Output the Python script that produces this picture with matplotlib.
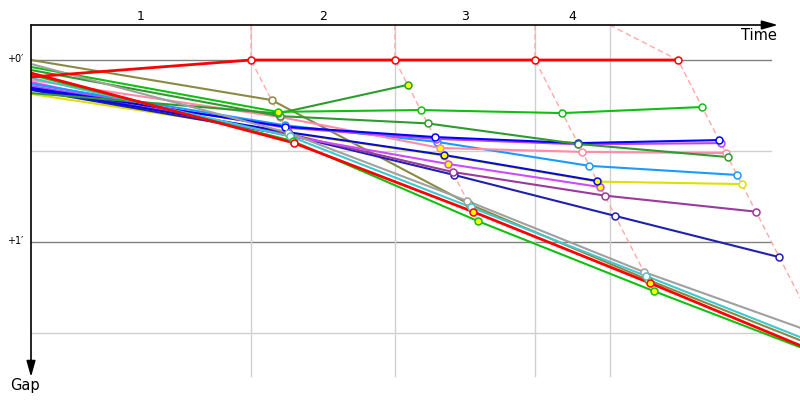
import matplotlib.pyplot as plt

# leader's race time (s) at the end of each lap, lap 0 = start
lap_times = [0, 141.0, 233.3, 323.1, 414.7]
# time where each lap's dashed line leaves the top axis / grey marker lines
lap_marks = [141.0, 233.3, 323.1, 371.0]
lap_labels = ['1', '2', '3', '4']

# gap to leader (s) at start and at the end of each lap
red_lead = [5.6, 0, 0, 0, 0]
olive = [0.0, 13.2, 47.5, 72.5, 96.0]
grey = [1.3, 24.0, 46.5, 69.9, 90.5]
lime_a = [2.3, 17.1, 16.5, 17.5, 15.5]
green_a = [10.9, 17.6, 8.2]
green_b = [3.3, 18.5, 20.9, 27.7, 32.0]
red_b = [4.3, 27.3, 50.0, 73.5, 98.4]
lime_b = [4.9, 26.7, 53.1, 76.2, 98.7]
cyan = [5.9, 25.2, 48.5, 71.2, 94.7]
pink = [6.6, 18.8, 29.0, 30.3, 30.7]
magenta = [7.3, 25.1, 34.3, 41.9]
lightblue = [7.9, 21.5, 27.0, 34.9, 37.9]
violet = [8.6, 22.3, 26.0, 27.8, 27.4]
purple = [8.9, 24.4, 36.9, 44.7, 50.0]
blue = [9.2, 22.0, 25.4, 27.4, 26.4]
darkblue = [9.6, 23.8, 31.3, 39.9]
navy = [9.9, 24.8, 37.9, 51.4, 65.0]
yellow = [11.2, 24.0, 31.5, 40.1, 40.9]

# laps where the marker is filled yellow
lime_a_best = [1]
green_a_best = [2]
pink_best = [2]
darkblue_best = [2, 3]
magenta_best = [1, 2, 3]
red_b_best = [2, 3]
lime_b_best = [1, 2, 3]

drivers = [
    (olive, '#8a8a45', []),
    (yellow, '#e0e000', []),
    (navy, '#2020b0', []),
    (purple, '#9a3a9a', []),
    (magenta, '#cc4cff', magenta_best),
    (darkblue, '#0a0ad8', darkblue_best),
    (lightblue, '#1a9aff', []),
    (pink, '#ff8ca8', pink_best),
    (violet, '#b845ff', []),
    (blue, '#0000ff', []),
    (green_b, '#2e9b2e', []),
    (green_a, '#2e9b2e', green_a_best),
    (lime_a, '#10c010', lime_a_best),
    (grey, '#a0a0a0', []),
    (cyan, '#40c8d0', []),
    (lime_b, '#10c010', lime_b_best),
    (red_b, '#ff0000', red_b_best),
    (red_lead, '#ff0000', []),
]

PX_T = 1.56          # px per second of time
PX_G = 182 / 60.0    # px per second of gap
top = -35 / PX_G     # gap value of the time axis

fig = plt.figure(figsize=(8, 4), dpi=100)
ax = fig.add_axes([0, 0, 1, 1])
ax.set_xlim(-31 / PX_T, 769 / PX_T)
ax.set_ylim(340 / PX_G, -60 / PX_G)
ax.axis('off')

# grid
for g in [0, 30, 60, 90]:
    c = '#808080' if g % 60 == 0 else '#d0d0d0'
    ax.plot([0, 740 / PX_T], [g, g], color=c, lw=1, zorder=1)
for t in lap_marks:
    ax.plot([t, t], [top, 316 / PX_G], color='#d0d0d0', lw=1, zorder=1)

ax.text(-5.1, -0.4, "+0′", fontsize=7, ha='right', va='center')
ax.text(-5.1, 59.8, "+1′", fontsize=7, ha='right', va='center')

# lap numbers between the marks
edges = [0] + lap_marks
for i, lab in enumerate(lap_labels):
    ax.text((edges[i] + edges[i + 1]) / 2, -14.2, lab, fontsize=9,
            ha='center', va='center')

# dashed lap lines
all_gaps = [d[0] for d in drivers]
for n in range(1, 5):
    gmax = max(g[n] for g in all_gaps if len(g) > n)
    T = lap_times[n]
    ax.plot([lap_marks[n - 1], T, T + gmax], [top, 0, gmax], color='#ffa8a8',
            lw=1, ls=(0, (4, 2.5)), zorder=2)

# driver lines
for gaps, col, best in drivers:
    xs = [0] + [lap_times[n] + gaps[n] for n in range(1, len(gaps))]
    lw = 2.0 if col == '#ff0000' else 1.5
    ax.plot(xs, gaps, color=col, lw=lw, zorder=3, solid_capstyle='butt')
    for n in range(1, len(gaps)):
        fc = '#ffff00' if n in best else 'white'
        ax.plot(xs[n], gaps[n], 'o', ms=5, mfc=fc, mec=col, mew=1.1, zorder=4)

# axes arrows
ax.annotate('', xy=(478.8, top), xytext=(0, top),
            arrowprops=dict(arrowstyle='-|>,head_length=0.64,head_width=0.18',
                            mutation_scale=15, color='black', lw=1.2,
                            shrinkA=0, shrinkB=0), zorder=5)
ax.annotate('', xy=(0, 104.5), xytext=(0, top),
            arrowprops=dict(arrowstyle='-|>,head_length=0.64,head_width=0.18',
                            mutation_scale=15, color='black', lw=1.2,
                            shrinkA=0, shrinkB=0), zorder=5)
ax.text(478.2, -8.2, 'Time', fontsize=10.5, ha='right', va='center')
ax.text(-3.85, 107.2, 'Gap', fontsize=10.5, ha='center', va='center')

fig.savefig('out.png', dpi=100)
